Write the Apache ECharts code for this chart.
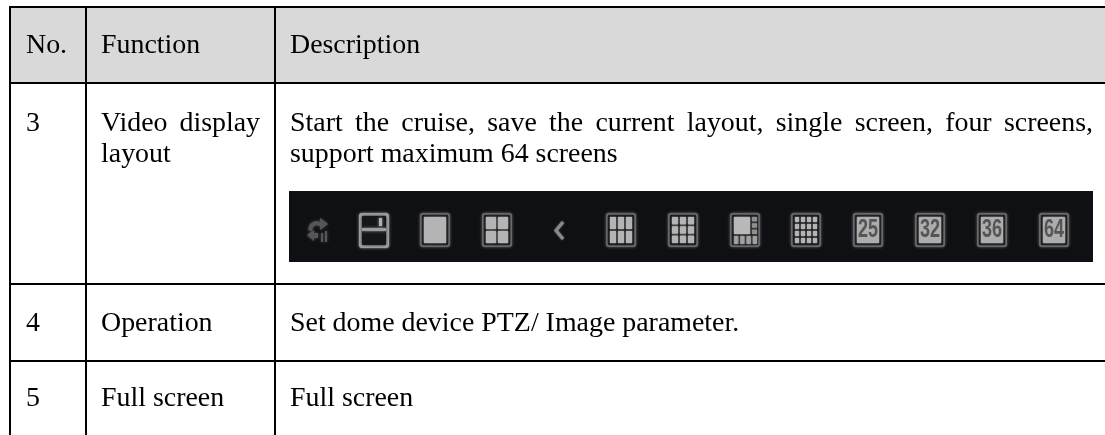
<!DOCTYPE html>
<html>
<head>
<meta charset="utf-8">
<title>Function table</title>
<style>
  html, body { margin: 0; padding: 0; background: #fff; }
  #main { width: 1105px; height: 435px; }
</style>
<script src="https://cdn.jsdelivr.net/npm/echarts@6/dist/echarts.min.js"></script>
</head>
<body>
<div id="main"></div>
<script>
// table content
const headers = ['No.', 'Function', 'Description']
const rowNumbers = ['3', '4', '5']
const rowFunctions = [['Video display', 'layout'], ['Operation'], ['Full screen']]
const rowDescriptions = [
  ['Start the cruise, save the current layout, single screen, four screens,', 'support maximum 64 screens'],
  ['Set dome device PTZ/ Image parameter.'],
  ['Full screen']
]
// which lines get stretched to the cell width, same shape as the texts above
const functionJustified = [[true, false], [false], [false]]
const descriptionJustified = [[true, false], [false], [false]]
// toolbar: [cols, rows] of the plain grid buttons, and the numbered ones
const gridButtons = [[1, 1], [2, 2], null, [3, 2], [3, 3], 'mixed', [4, 4]]
const numberButtons = ['25', '32', '36', '64']

// layout, px
const W = 1105, H = 435
const FONT = '"Liberation Serif", "Times New Roman", serif'
const SIZE = 27.9
const colLines = [9, 85, 274]
const rowLines = [6, 82, 283, 360]
const textX = [26, 101, 290]
const textRight = [0, 260, 1093]
const headerBase = 54
const rowBase = [132, 332, 407]
const lineGap = 31

const measure = document.createElement('canvas').getContext('2d')
measure.font = SIZE + 'px ' + FONT

const els = []

function label(text, x, baseline) {
  els.push({
    type: 'text', silent: true, z: 5,
    style: { text: text, x: x, y: baseline - 8.5, fill: '#000', font: SIZE + 'px ' + FONT, verticalAlign: 'middle' }
  })
}

// stretches the gaps between words so the line ends on right
function line(text, x, right, baseline, justify) {
  if (!justify) { label(text, x, baseline); return }
  const words = text.split(' ')
  const used = words.reduce((s, w) => s + measure.measureText(w).width, 0)
  const gap = (right - x - used) / (words.length - 1)
  let cx = x
  words.forEach(w => {
    label(w, cx, baseline)
    cx += measure.measureText(w).width + gap
  })
}

function box(x, y, w, h, fill, z) {
  els.push({ type: 'rect', silent: true, z: z || 1, shape: { x: x, y: y, width: w, height: h }, style: { fill: fill } })
}

// soft edged rect, the toolbar is a blurry screenshot in the original
function soft(x, y, w, h, fill, r) {
  els.push({
    type: 'rect', silent: true, z: 3,
    shape: { x: x, y: y, width: w, height: h, r: r || 0 },
    style: { fill: fill, shadowBlur: 3, shadowColor: fill }
  })
}

function frame(x) {
  soft(x, 213, 30, 34, '#757575', 3)
  soft(x + 2, 215, 26, 30, '#17181b', 1)
}

function cells(x0, y0, w, h, cols, rows, fill) {
  const gap = 2
  const cw = (w - gap * (cols - 1)) / cols
  const ch = (h - gap * (rows - 1)) / rows
  for (let c = 0; c < cols; c++) {
    for (let r = 0; r < rows; r++) {
      els.push({
        type: 'rect', silent: true, z: 4,
        shape: { x: x0 + c * (cw + gap), y: y0 + r * (ch + gap), width: cw, height: ch },
        style: { fill: fill, shadowBlur: 2, shadowColor: fill }
      })
    }
  }
}

function gridButton(x, cols, rows) {
  frame(x)
  cells(x + 4, 217, 22, 26, cols, rows, '#b4b4b4')
}

function mixedButton(x) {
  frame(x)
  cells(x + 4, 217, 16, 17, 1, 1, '#b8b8b8')
  cells(x + 22, 217, 5, 17, 1, 3, '#8f8f8f')
  cells(x + 4, 236, 23, 8, 4, 1, '#a0a0a0')
}

function numberButton(x, text) {
  frame(x)
  cells(x + 4, 217, 22, 26, 1, 1, '#adadad')
  els.push({
    type: 'text', silent: true, z: 5,
    x: x + 15, y: 230, scaleX: 0.72,
    style: {
      text: text, fill: '#555', font: 'bold 25px "Liberation Sans", sans-serif',
      align: 'center', verticalAlign: 'middle', shadowBlur: 2, shadowColor: '#555'
    }
  })
}

function saveButton(x) {
  soft(x, 213, 30, 35, '#a3a3a3', 3)
  soft(x + 3, 216, 24, 29, '#15161a', 1)
  soft(x + 3, 228, 24, 3, '#9c9c9c')
  soft(x + 20, 218, 3, 8, '#b0b0b0')
}

function arrow(points, ink) {
  els.push({
    type: 'polygon', silent: true, z: 4,
    shape: { points: points },
    style: { fill: ink, shadowBlur: 3, shadowColor: ink }
  })
}

function cruiseButton(x) {
  const ink = '#565656'
  // arrow going over the top, arrow coming back underneath, signal bars
  arrow([[x + 1, 230], [x + 3, 224], [x + 8, 221], [x + 13, 222], [x + 13, 218], [x + 21, 224], [x + 13, 230], [x + 13, 226], [x + 9, 225], [x + 6, 227], [x + 5, 231]], ink)
  arrow([[x, 235], [x + 7, 230], [x + 7, 233], [x + 11, 233], [x + 11, 238], [x + 7, 238], [x + 7, 241]], ink)
  soft(x + 14, 233, 2, 9, ink)
  soft(x + 18, 231, 2, 11, ink)
}

function chevron(x) {
  els.push({
    type: 'polyline', silent: true, z: 4,
    shape: { points: [[x + 8, 222], [x + 1, 230.5], [x + 8, 239]] },
    style: { stroke: '#8a8a8a', lineWidth: 3, fill: null, shadowBlur: 2, shadowColor: '#8a8a8a' }
  })
}

// header band runs off the right edge, the table has no right border in the crop
box(colLines[0], rowLines[0], W - colLines[0], rowLines[1] - rowLines[0], '#d9d9d9')

// rules
rowLines.forEach(y => box(colLines[0], y, W - colLines[0], 2, '#000', 2))
colLines.forEach(x => box(x, rowLines[0], 2, H - rowLines[0], '#000', 2))

// header
headers.forEach((h, i) => label(h, textX[i], headerBase))

// rows
rowNumbers.forEach((n, r) => {
  label(n, textX[0], rowBase[r])
  rowFunctions[r].forEach((t, i) => line(t, textX[1], textRight[1], rowBase[r] + i * lineGap, functionJustified[r][i]))
  rowDescriptions[r].forEach((t, i) => line(t, textX[2], textRight[2], rowBase[r] + i * lineGap, descriptionJustified[r][i]))
})

// toolbar screenshot in row 3
box(289, 191, 804, 71, '#0f1014', 2)
cruiseButton(307)
saveButton(359)
const gridX = [420, 482, 555, 606, 668, 730, 791]
gridButtons.forEach((g, i) => {
  if (g === null) chevron(gridX[i])
  else if (g === 'mixed') mixedButton(gridX[i])
  else gridButton(gridX[i], g[0], g[1])
})
const numberX = [853, 915, 977, 1039]
numberButtons.forEach((t, i) => numberButton(numberX[i], t))

const chart = echarts.init(document.getElementById('main'), null, { renderer: 'canvas' })
chart.setOption({
  animation: false,
  backgroundColor: '#fff',
  graphic: { elements: els }
})
</script>
</body>
</html>
